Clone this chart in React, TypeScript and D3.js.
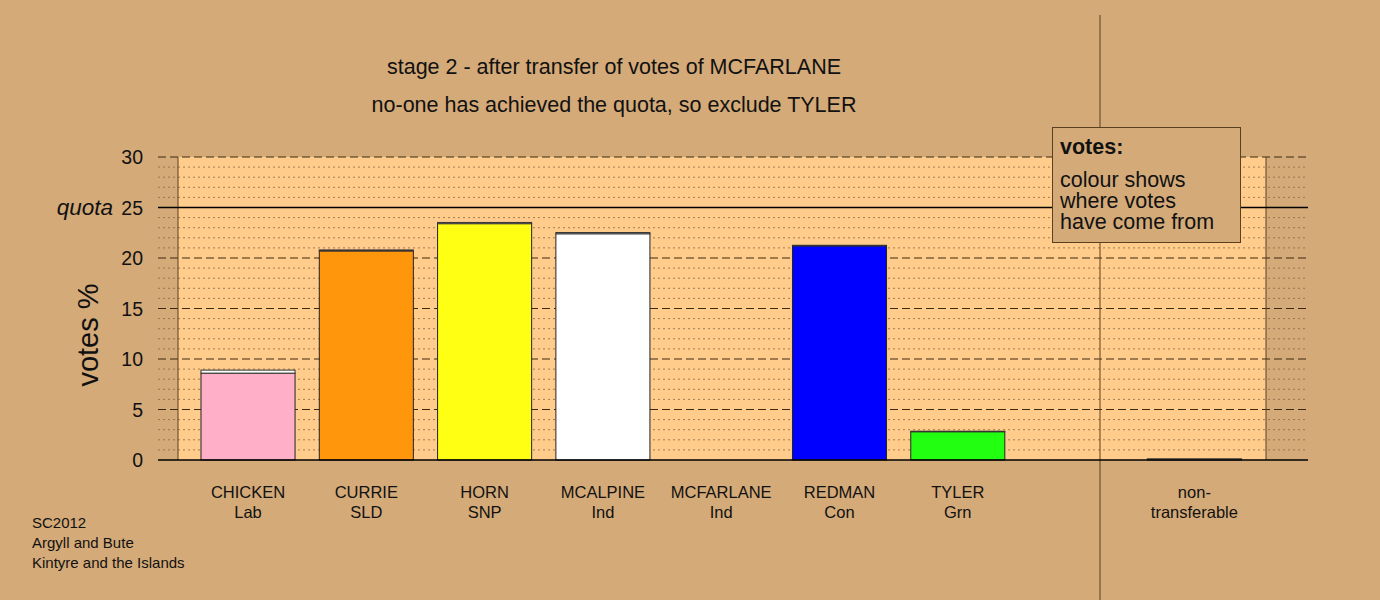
import React from "react";
import * as d3 from "d3";

const candidates = ["CHICKEN", "CURRIE", "HORN", "MCALPINE", "MCFARLANE", "REDMAN", "TYLER", "", "non-"];
const parties = ["Lab", "SLD", "SNP", "Ind", "Ind", "Con", "Grn", "", "transferable"];
const baseVotes = [8.6, 20.7, 23.4, 22.4, 0, 21.2, 2.8, 0, 0];
const transferVotes = [0.3, 0.1, 0.12, 0.12, 0, 0.06, 0.05, 0, 0.12];
const barColours = ["#ffb0c8", "#ff960c", "#ffff14", "#ffffff", "#ffffff", "#0000ff", "#22ff11", "none", "#c8c0b0"];
const transferColour = "#ffffff";
const yTicks = [0, 5, 10, 15, 20, 25, 30];
const quota = 25;
const titleLines = ["stage 2 - after transfer of votes of MCFARLANE", "no-one has achieved the quota, so exclude TYLER"];
const footnote = ["SC2012", "Argyll and Bute", "Kintyre and the Islands"];
const legendLines = ["colour shows", "where votes", "have come from"];

export default function App() {
  const W = 1380, H = 600;
  const panelL = 178, panelR = 1266, gridL = 158, gridR = 1308;
  const y = d3.scaleLinear().domain([0, 30]).range([460, 157]);
  const x = d3.scaleBand<number>().domain(d3.range(9)).range([201, 1241.4]).paddingInner(0.205).paddingOuter(0);
  const minor = d3.range(0, 31).filter((v) => v % 5 !== 0);
  const major = yTicks.filter((v) => v !== 0 && v !== quota);
  const font = "Arial, 'Liberation Sans', sans-serif";
  const bg = "#d4aa78";
  return (
    <svg width={W} height={H} style={{ position: "absolute", left: 0, top: 0 }} fontFamily={font}>
      <rect x={0} y={0} width={W} height={H} fill={bg} />
      <rect x={panelL} y={y(30)} width={panelR - panelL} height={y(0) - y(30)} fill="#ffcc8c" />
      {minor.map((v) => (
        <line key={"mi" + v} x1={gridL} x2={gridR} y1={y(v)} y2={y(v)} stroke="#8a6a40" strokeWidth={1} strokeDasharray="2,3" opacity={0.8} />
      ))}
      {major.map((v) => (
        <line key={"ma" + v} x1={gridL} x2={gridR} y1={y(v)} y2={y(v)} stroke="#3a2a10" strokeWidth={1} strokeDasharray="8,4" />
      ))}
      <line x1={panelL} x2={panelL} y1={y(30)} y2={y(0)} stroke="#5a4020" strokeWidth={1} />
      <line x1={panelR} x2={panelR} y1={y(30)} y2={y(0)} stroke="#5a4020" strokeWidth={1} />
      <line x1={1100} x2={1100} y1={15} y2={600} stroke="#5a4020" strokeWidth={1} />
      <line x1={gridL} x2={gridR} y1={y(quota)} y2={y(quota)} stroke="#000" strokeWidth={1.5} />
      {baseVotes.map((v, i) => {
        if (barColours[i] === "none") return null;
        const bx = x(i)!, bw = x.bandwidth();
        const t = transferVotes[i];
        return (
          <g key={"b" + i}>
            {v > 0 && <rect x={bx} y={y(v)} width={bw} height={y(0) - y(v)} fill={barColours[i]} stroke="#222" strokeWidth={1} />}
            {t > 0 && <rect x={bx} y={y(v + t)} width={bw} height={y(v) - y(v + t)} fill={i === 8 ? barColours[i] : transferColour} stroke="#333" strokeWidth={1} />}
          </g>
        );
      })}
      <line x1={gridL} x2={gridR} y1={y(0)} y2={y(0)} stroke="#000" strokeWidth={1.5} />
      {yTicks.map((v) => (
        <text key={"t" + v} x={143} y={y(v) + 7} textAnchor="end" fontSize={19.5} fill="#111">{v}</text>
      ))}
      <text x={113} y={y(quota) + 7} textAnchor="end" fontSize={22.5} fontStyle="italic" fill="#111">quota</text>
      <text transform={`translate(98,${335}) rotate(-90)`} textAnchor="middle" fontSize={29} fill="#111">votes %</text>
      {titleLines.map((s, i) => (
        <text key={"ti" + i} x={614} y={73.5 + i * 38} textAnchor="middle" fontSize={21.5} fill="#111">{s}</text>
      ))}
      {candidates.map((c, i) => (
        <g key={"l" + i}>
          <text x={x(i)! + x.bandwidth() / 2} y={498} textAnchor="middle" fontSize={16.5} fill="#111">{c}</text>
          <text x={x(i)! + x.bandwidth() / 2} y={518} textAnchor="middle" fontSize={16.5} fill="#111">{parties[i]}</text>
        </g>
      ))}
      {footnote.map((s, i) => (
        <text key={"f" + i} x={32} y={527.5 + i * 20} fontSize={15} fill="#111">{s}</text>
      ))}
      <rect x={1052.5} y={127.5} width={188} height={115} fill={bg} stroke="#5a4020" strokeWidth={1} />
      <text x={1060} y={154} fontSize={21.5} fontWeight="bold" fill="#111">votes:</text>
      {legendLines.map((s, i) => (
        <text key={"lg" + i} x={1060} y={186.5 + i * 21} fontSize={21.5} fill="#111">{s}</text>
      ))}
    </svg>
  );
}
